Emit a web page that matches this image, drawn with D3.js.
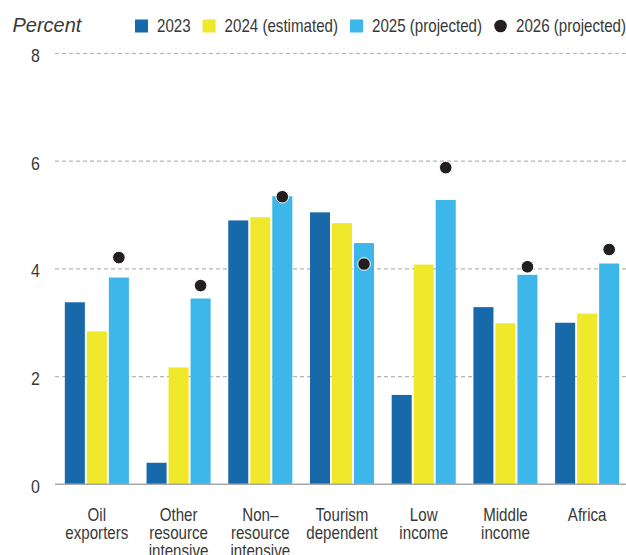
<!DOCTYPE html>
<html>
<head>
<meta charset="utf-8">
<script src="https://cdn.jsdelivr.net/npm/d3@7"></script>
<style>
  html, body { margin: 0; padding: 0; background: #fff; }
  svg { display: block; }
</style>
</head>
<body>
<svg id="chart" width="626" height="555"></svg>
<script>
const categories = [
  ["Oil", "exporters"],
  ["Other", "resource", "intensive"],
  ["Non–", "resource", "intensive"],
  ["Tourism", "dependent"],
  ["Low", "income"],
  ["Middle", "income"],
  ["Africa"]
];
const seriesNames = ["2023", "2024 (estimated)", "2025 (projected)", "2026 (projected)"];
const values2023 = [3.38, 0.40, 4.90, 5.05, 1.66, 3.29, 3.00];
const values2024 = [2.84, 2.17, 4.96, 4.85, 4.08, 2.99, 3.17];
const values2025 = [3.84, 3.45, 5.35, 4.48, 5.28, 3.89, 4.10];
const values2026 = [4.21, 3.69, 5.34, 4.09, 5.88, 4.04, 4.36];
const yTicks = [0, 2, 4, 6, 8];

const colors = ["#1769AA", "#F0E82A", "#3DB6E9", "#231F20"];
const sans = "'Liberation Sans', Arial, sans-serif";
const textColor = "#383838";
const squeeze = 0.84; // emulate the condensed face of the original

const svg = d3.select("#chart");
const catKeys = categories.map(c => c.join(" "));
const barSeries = [values2023, values2024, values2025];

const x0 = d3.scaleBand().domain(catKeys).range([56, 628]).paddingInner(0.216).paddingOuter(0.108);
const x1 = d3.scaleBand().domain([0, 1, 2]).range([0, x0.bandwidth()]).paddingInner(0.09);
const y = d3.scaleLinear().domain([0, 8]).range([484.3, 53.5]);

function narrowText(sel, x, yy, size, anchor) {
  return sel.append("text")
    .attr("transform", `translate(${x},${yy}) scale(${squeeze},1)`)
    .attr("text-anchor", anchor || "start")
    .attr("font-family", sans).attr("font-size", size).attr("fill", textColor);
}

// gridlines
svg.append("g").selectAll("line").data(yTicks.filter(t => t > 0)).join("line")
  .attr("x1", 55).attr("x2", 626)
  .attr("y1", d => y(d)).attr("y2", d => y(d))
  .attr("stroke", "#b5b5b5").attr("stroke-width", 1.2).attr("stroke-dasharray", "4,3");

// y tick labels
const yl = svg.append("g");
yTicks.forEach(t => narrowText(yl, 40, y(t) + 8.5, 19, "end").text(t));

// bars
const groups = svg.append("g").selectAll("g").data(catKeys).join("g")
  .attr("transform", d => `translate(${x0(d)},0)`);
groups.selectAll("rect").data((d, i) => barSeries.map((s, j) => ({ j, v: s[i] }))).join("rect")
  .attr("x", d => x1(d.j)).attr("width", x1.bandwidth())
  .attr("y", d => y(d.v)).attr("height", d => y(0) - y(d.v))
  .attr("fill", d => colors[d.j]);

// baseline
svg.append("line").attr("x1", 55).attr("x2", 626).attr("y1", y(0)).attr("y2", y(0))
  .attr("stroke", "#a8a8a8").attr("stroke-width", 1.5);

// dots
svg.append("g").selectAll("circle").data(values2026).join("circle")
  .attr("cx", (d, i) => x0(catKeys[i]) + x1(2) + x1.bandwidth() / 2)
  .attr("cy", d => y(d)).attr("r", 6.3)
  .attr("fill", colors[3]).attr("stroke", "#fff").attr("stroke-width", 1);

// category labels
const cl = svg.append("g");
categories.forEach((lines, i) => {
  const t = narrowText(cl, x0(catKeys[i]) + x0.bandwidth() / 2, 520.5, 18, "middle");
  lines.forEach((ln, k) => t.append("tspan").attr("x", 0).attr("dy", k === 0 ? 0 : 18.5).text(ln));
});

// title
svg.append("text").attr("x", 12.5).attr("y", 31.5)
  .attr("font-family", sans).attr("font-style", "italic")
  .attr("font-size", 20).attr("fill", textColor).text("Percent");

// legend
const legend = svg.append("g");
let lx = 135;
seriesNames.forEach((name, i) => {
  if (i < 3) {
    legend.append("rect").attr("x", lx).attr("y", 19.5).attr("width", 13).attr("height", 13).attr("fill", colors[i]);
  } else {
    legend.append("circle").attr("cx", lx + 6.5).attr("cy", 26).attr("r", 6.3).attr("fill", colors[3]);
  }
  const t = narrowText(legend, lx + 22, 32.3, 18, "start").text(name);
  lx = lx + 22 + t.node().getComputedTextLength() * squeeze + 12;
});
</script>
</body>
</html>
